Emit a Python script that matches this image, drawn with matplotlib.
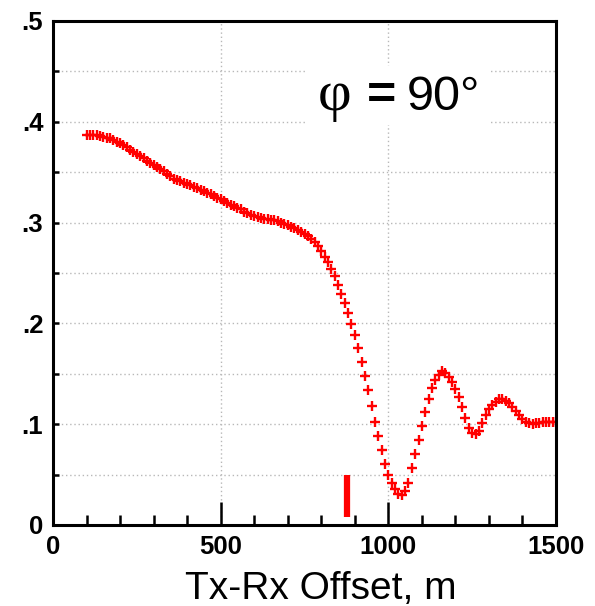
import matplotlib
matplotlib.use("Agg")
import matplotlib.pyplot as plt
from matplotlib.patches import Rectangle
from matplotlib.ticker import MultipleLocator, FixedLocator

offset_m = list(range(100, 1501, 10))
amplitude = [
    .387, .387, .387, .387, .386, .385, .384, .384, .382, .380,
    .379, .377, .375, .372, .370, .368, .366, .364, .361, .359,
    .357, .355, .353, .351, .348, .346, .343, .342, .341, .339,
    .338, .337, .335, .334, .332, .331, .329, .328, .326, .324,
    .323, .321, .319, .317, .316, .314, .313, .311, .310, .308,
    .307, .306, .305, .304, .304, .303, .303, .302, .300, .299,
    .298, .296, .295, .293, .291, .289, .287, .284, .281, .277,
    .272, .266, .261, .254, .247, .238, .229, .220, .210, .199,
    .188, .176, .162, .148, .134, .118, .102, .088, .074, .061,
    .050, .042, .036, .031, .030, .034, .042, .057, .070, .084,
    .098, .112, .125, .136, .144, .149, .153, .151, .147, .142,
    .135, .127, .117, .106, .096, .091, .090, .093, .101, .109,
    .115, .119, .122, .125, .125, .123, .121, .117, .113, .109,
    .105, .102, .101, .100, .101, .101, .102, .102, .102, .102,
    .102,
]
marker_x = 877
marker_y = [0.008, 0.050]
xtick_values = [0, 500, 1000, 1500]
xtick_labels = ["0", "500", "1000", "1500"]
ytick_values = [0, 0.1, 0.2, 0.3, 0.4, 0.5]
ytick_labels = ["0", ".1", ".2", ".3", ".4", ".5"]
xlabel = "Tx-Rx Offset, m"

fig = plt.figure(figsize=(5.95, 6.06), dpi=100)
ax = fig.add_axes([53/595, 1-525/606, (556-53)/595, (525-21)/606])
ax.set_xlim(0, 1500)
ax.set_ylim(0, 0.5)

# grid
for yv in [0.05, 0.1, 0.15, 0.2, 0.25, 0.3, 0.35, 0.4, 0.45]:
    ax.axhline(yv, color="#b8b8b8", lw=1.0, ls=(0, (1, 2)), zorder=1)
for xv in [500, 1000]:
    ax.axvline(xv, color="#b8b8b8", lw=1.0, ls=(0, (1, 2)), zorder=1)

# white box behind annotation
ax.add_patch(Rectangle((757, 0.397), 1303-757, 0.455-0.397, facecolor="white",
                       edgecolor="none", zorder=2))

ax.plot(offset_m, amplitude, ls="none", marker="+", color="red",
        markersize=6.5, markeredgewidth=1.7, zorder=3)
ax.plot([marker_x, marker_x], marker_y, color="red", lw=4.5,
        solid_capstyle="butt", zorder=3)

ax.xaxis.set_major_locator(FixedLocator(xtick_values))
ax.set_xticklabels(xtick_labels)
ax.xaxis.set_minor_locator(MultipleLocator(100))
ax.yaxis.set_major_locator(FixedLocator(ytick_values))
ax.set_yticklabels(ytick_labels)
ax.yaxis.set_minor_locator(MultipleLocator(0.05))

for lab in ax.get_xticklabels() + ax.get_yticklabels():
    lab.set_fontfamily("Liberation Sans")
    lab.set_fontweight("bold")
    lab.set_fontsize(18.5)

ax.tick_params(axis="x", which="major", direction="in", length=16.5, width=1.8,
               pad=7, top=False, bottom=True)
ax.tick_params(axis="x", which="minor", direction="in", length=7.5, width=1.8,
               top=False, bottom=True)
ax.tick_params(axis="y", which="both", direction="in", length=4.5, width=1.8,
               pad=7, left=True, right=False)

for s in ax.spines.values():
    s.set_linewidth(2.2)
    s.set_color("black")
    s.set_zorder(5)

fig.text(321/595, 1-599/606, xlabel, ha="center", va="baseline",
         fontsize=28, family="Liberation Sans")

ax.text(790, 0.412, "φ", ha="left", va="baseline", fontsize=42,
        family="Liberation Serif", zorder=4)
ax.text(981, 0.412, "=", ha="center", va="baseline", fontsize=36,
        family="Liberation Sans", fontweight="bold", zorder=4)
ax.text(1056, 0.412, "90°", ha="left", va="baseline", fontsize=35,
        family="Liberation Sans", zorder=4)

fig.savefig("out.png", dpi=100)
